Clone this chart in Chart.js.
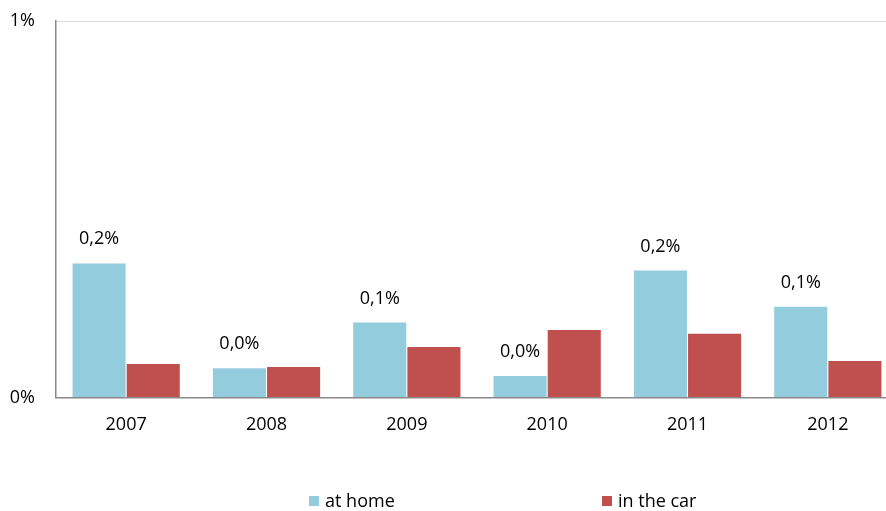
<!DOCTYPE html>
<html>
<head>
<meta charset="utf-8">
<script src="https://cdn.jsdelivr.net/npm/chart.js@4.4.1/dist/chart.umd.min.js"></script>
<style>
  html, body { margin: 0; padding: 0; background: #fff; overflow: hidden; }
  #wrap { position: relative; width: 886px; height: 511px; overflow: hidden; }
  #chart { position: absolute; left: 0; top: 0; }
  .lg-box { position: absolute; width: 10px; height: 10px; top: 496px; }
  .lg-txt { position: absolute; top: 489px; font: 18px "Open Sans", sans-serif; line-height: 22px; color: #000; white-space: nowrap; }
</style>
</head>
<body>
<div id="wrap">
  <canvas id="chart" width="900" height="511"></canvas>
</div>
<script>
  var years = ['2007', '2008', '2009', '2010', '2011', '2012'];
  var seriesNames = ['at home', 'in the car'];
  var atHome = [0.356, 0.078, 0.199, 0.057, 0.337, 0.241];
  var inTheCar = [0.089, 0.081, 0.134, 0.179, 0.169, 0.097];
  var homeLabels = ['0,2%', '0,0%', '0,1%', '0,0%', '0,2%', '0,1%'];
  var yTicks = [0, 1];

  var colors = {
    home: '#93CDDD',
    car: '#C0504D',
    axis: '#898989',
    grid: '#D9D9D9',
    text: '#000000'
  };
  var font = '"Open Sans", sans-serif';

  // value labels above the "at home" bars
  var homeValueLabels = {
    id: 'homeValueLabels',
    afterDatasetsDraw: function(chart) {
      var ctx = chart.ctx;
      var meta = chart.getDatasetMeta(0);
      ctx.save();
      ctx.font = '18px ' + font;
      ctx.fillStyle = colors.text;
      ctx.textAlign = 'center';
      ctx.textBaseline = 'alphabetic';
      meta.data.forEach(function(bar, i) {
        ctx.fillText(homeLabels[i], bar.x, bar.y - 19);
      });
      ctx.restore();
    }
  };

  new Chart(document.getElementById('chart'), {
    type: 'bar',
    data: {
      labels: years,
      datasets: [{
        label: seriesNames[0],
        data: atHome,
        backgroundColor: colors.home,
        barPercentage: 0.98,
        categoryPercentage: 0.772
      }, {
        label: seriesNames[1],
        data: inTheCar,
        backgroundColor: colors.car,
        barPercentage: 0.98,
        categoryPercentage: 0.772
      }]
    },
    options: {
      responsive: false,
      animation: false,
      layout: { padding: { top: 21, right: 2, left: 0, bottom: 0 } },
      plugins: {
        legend: { display: false },
        tooltip: { enabled: false }
      },
      scales: {
        x: {
          grid: { display: false },
          border: { color: colors.axis, width: 1.5 },
          ticks: { color: colors.text, font: { family: font, size: 18 }, padding: 9 },
          afterFit: function(scale) {
            scale.height = 113.5;
            scale.paddingLeft = 0;
            scale.paddingRight = 0;
          }
        },
        y: {
          min: 0,
          max: 1,
          afterBuildTicks: function(scale) {
            scale.ticks = yTicks.map(function(v) { return { value: v }; });
          },
          grid: {
            drawTicks: false,
            color: function(c) { return c.tick && c.tick.value === 1 ? colors.grid : 'rgba(0,0,0,0)'; }
          },
          border: { color: colors.axis, width: 1.5 },
          ticks: {
            color: colors.text,
            font: { family: font, size: 18 },
            padding: 21,
            callback: function(v) { return v + '%'; }
          },
          afterFit: function(scale) {
            scale.width = 56;
            scale.paddingTop = 0;
            scale.paddingBottom = 0;
          }
        }
      }
    },
    plugins: [homeValueLabels]
  });

  // legend
  var wrap = document.getElementById('wrap');
  var legendBoxX = [309, 602];
  var legendTextX = [325, 618];
  [colors.home, colors.car].forEach(function(c, i) {
    var box = document.createElement('div');
    box.className = 'lg-box';
    box.style.left = legendBoxX[i] + 'px';
    box.style.background = c;
    wrap.appendChild(box);
    var txt = document.createElement('div');
    txt.className = 'lg-txt';
    txt.style.left = legendTextX[i] + 'px';
    txt.textContent = seriesNames[i];
    wrap.appendChild(txt);
  });
</script>
</body>
</html>
